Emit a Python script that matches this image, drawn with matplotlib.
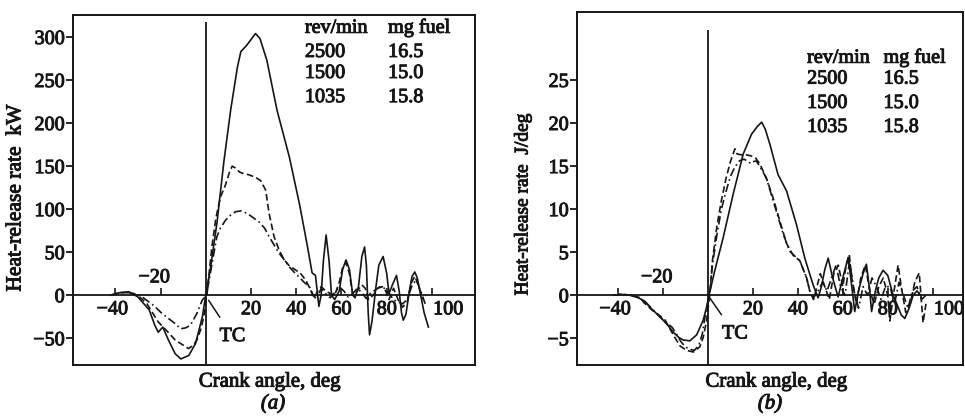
import matplotlib
matplotlib.use("Agg")
import matplotlib.pyplot as plt
import matplotlib.patheffects as pe

plt.rcParams['font.family'] = ['Liberation Serif', 'DejaVu Serif']

# (a) heat-release rate, kW
a_x_2500 = [-42, -38, -34, -30, -25, -22.5, -21, -19, -16.5, -13.5, -11, -7.5, -4.5, -1.5, 0,
            2, 5, 8, 11, 14, 15.5, 18, 20, 22, 24, 27, 31.5, 37, 41.5, 45, 47, 48.5, 50, 51,
            52, 53.2, 54.5, 55.6, 57, 59, 60.5, 62, 63.5, 65, 66, 67.5, 69, 70.2, 71, 71.8,
            72.4, 73.5, 75, 76.5, 78.4, 80, 81, 82.5, 84.3, 85.5, 86.5, 87.3, 88.5, 90, 91.2,
            92.4, 93.5, 95, 96.5, 98.4]
a_y_2500 = [0, 3, 4, -2, -17, -35, -43, -37, -52, -68, -74, -70, -56, -25, 0,
            30, 85, 155, 215, 265, 283, 290, 297, 304, 298, 273, 215, 160, 105, 56, 26, 23, -13, 0,
            40, 70, 40, 0, -5, 5, 30, 41, 30, 0, -3, 10, 45, 56, 35, -20,
            -46, -30, 5, 35, 45, 25, 2, 12, 23, 5, -20, -29, -22, 5, 22,
            27, 20, 0, -20, -37]

a_x_1500 = [-42, -38, -34, -30, -26, -21, -17, -13.5, -10, -7.6, -5.5, -3.9, -2, -0.9, 0.5,
            2.7, 4.5, 6.5, 8.7, 10.5, 11.7, 13, 15, 17, 19, 22, 24.3, 26.5, 28, 30.2, 32.5,
            34.7, 37, 39.9, 42, 44.3, 46, 47, 48, 49.5, 51, 53, 55, 57, 59, 60.5, 62, 63.5,
            65, 67, 69, 70.5, 72, 74, 76, 78, 79.5, 81, 83, 85, 87, 89, 91, 92.4, 94, 96]
a_y_1500 = [0, 3, 3, 0, -10, -31, -42, -52, -58, -62, -58, -52, -38, -25, 0,
            56, 90, 114, 128, 143, 150, 148, 143, 141, 140, 137, 133, 122, 95, 68, 52,
            41, 34, 29, 25, 17, 8, 2, -3, 5, 10, 5, 2, 0, 15, 32, 38, 25,
            0, 5, 12, 8, -5, 0, 8, 10, 5, -5, 8, -5, -14, -8, 15, 22, 12, -5]

a_x_1035 = [-42, -38, -34, -30, -27.6, -23, -19.4, -16, -13.5, -11.2, -9, -6.8, -3.9, -1.6, 0.3,
            2.8, 4.9, 6.5, 8.7, 11, 13.2, 15.5, 18.4, 21, 23.6, 26, 28, 30.3, 32.4, 35, 36.9,
            39, 41.3, 43.5, 45.8, 47.5, 49, 51, 53, 55, 57, 59, 61, 63, 65, 67, 69, 71, 73,
            75, 77, 79, 81, 83, 85, 87, 89, 91, 93, 95, 97]
a_y_1035 = [0, 3, 3, 1, -3, -12, -21, -28, -33, -39, -38, -35, -21, -6, 0,
            37, 68, 78, 87, 93, 97, 98, 95, 90, 85, 78, 68, 58, 49, 40, 33,
            27, 21, 15, 10, 0, -5, 8, 2, -3, 3, 10, 5, -2, 2, 8, 3, -4, 3,
            6, 10, 8, 2, -5, -8, -10, -5, 10, 18, 5, -10]

# (b) heat-release rate, J/deg
b_x_2500 = [-42, -39, -35, -31.7, -28, -25.8, -23, -19.9, -17.5, -15.4, -13, -11, -8, -5, -2.1,
            -0.6, 0.5, 3, 6.8, 11.2, 15.7, 19.4, 22, 23.9, 25.5, 27.6, 31.2, 35, 39.4, 43.1,
            46.8, 49, 50.5, 52, 53.5, 55.5, 57.9, 60, 62.4, 64, 65.3, 67, 69, 70.5, 72, 72.8,
            74.5, 76, 77.9, 80, 82.4, 84, 86, 87.6, 89.5, 91.3, 93, 94.5]
b_y_2500 = [0, 0.1, 0, -0.2, -0.7, -1.4, -2.1, -2.9, -3.6, -4.3, -4.9, -5.2, -5.3, -4.6, -2.9,
            -1.4, 0, 2.8, 6.7, 11.7, 16.4, 18.7, 19.6, 20.1, 19.3, 17.5, 14, 12.1, 8.2, 4.3,
            1.2, -0.3, 1, 3, 4.3, 2, -0.2, 2, 4.4, 1, -1.9, 0.5, 2.5, 3.6, 0.5, -1.9,
            0.5, 2, 2.9, 2.3, 0, -1, -2.3, -2.7, -1.5, 0, 0.5, 0]

b_x_1500 = [-42, -38, -34, -30, -28.7, -25, -21.3, -19, -16.9, -14.5, -12.4, -9.5, -6.5, -3.6,
            -2.1, -0.6, 0.8, 2, 4, 6, 8, 10, 12, 13, 15, 17, 19, 21, 23, 26, 29, 32, 35, 38,
            40.9, 43.9, 45.4, 47, 48.5, 50, 52, 54, 56, 58, 60, 61.5, 62.9, 64, 66, 68, 70,
            72, 74, 76, 78, 80, 80.9, 82.5, 84.6, 86, 88, 90, 92, 94, 95.7, 97]
b_y_1500 = [0, 0.1, 0, -0.3, -0.8, -1.7, -2.4, -2.9, -3.9, -5.0, -5.9, -6.4, -6.6, -6.0,
            -4.9, -3.0, 0, 4, 8, 11, 13.5, 15.5, 17, 16.4, 16.3, 16.3, 16.2, 16.0, 15.3, 13.6,
            11.3, 8.6, 6.0, 4.6, 4.0, 2.0, 0.4, -0.5, 1, 2.5, 1, -0.5, 2.5, 3.5, 1, 3.5, 4.7,
            2, -1, 2, 3.5, 0.5, -1, 1, 2, 0, -3, 0, 3.5, 1, -2, -1, 1.5, 2.6, -3.2, -1]

b_x_1035 = [-42, -38, -34, -30, -27, -24, -21, -18, -16, -14, -12, -10, -8, -6, -4, -2.5, -1,
            0.8, 2, 4, 6, 8, 10, 12, 14, 16, 17.5, 19, 20, 21.5, 23, 26, 29, 33.5, 36.4, 40.9,
            43.9, 45.4, 47, 49, 51, 53, 55, 57, 59, 61, 63, 65, 67, 69, 71, 73, 75, 77, 79, 81,
            83, 85, 87, 89, 91, 93, 95, 97]
b_y_1035 = [0, 0.1, 0, -0.4, -1, -1.8, -2.6, -3.3, -3.7, -4.5, -5.4, -6.0, -6.3, -6.4, -5.8,
            -4.5, -2, 0, 3.5, 7, 10, 12, 13.8, 14.9, 15.6, 15.8, 15.6, 15.3, 15.5, 15.6, 15.0,
            13.6, 11.0, 7.1, 5.1, 4.0, 2.0, 0.4, -0.3, 0.5, 1.5, 0.5, 2, 3.5, 1, 0, 4, 0.5,
            -1.5, 1, 0, 2, 1, -0.5, 1, 1, -1, 1.5, 0, -1.5, 0.5, 1, -0.5, 0]

speeds = ['2500', '1500', '1035']
fuel = ['16.5', '15.0', '15.8']
crank_ticks = [-40, -20, 20, 40, 60, 80, 100]
a_yticks = [-50, 0, 50, 100, 150, 200, 250, 300]
b_yticks = [-5, 0, 5, 10, 15, 20, 25]

ink = '#161616'
# scanned print looks heavy: thicken every glyph a little
heavy = [pe.withStroke(linewidth=0.7, foreground=ink)]
styles = [dict(ls='-'), dict(ls=(0, (4, 2))), dict(ls=(0, (5, 2, 1, 2)))]

fig = plt.figure(figsize=(9.65, 4.19), dpi=100)
ax_a = fig.add_axes([0.0756, 0.129, 0.4166, 0.8353])
ax_b = fig.add_axes([0.598, 0.129, 0.400, 0.8425])


def txt(ax, *args, **kw):
    return ax.text(*args, color=ink, path_effects=heavy, **kw)


def panel(ax, curves, xlim, ylim, yticks, vtop, tc_text, legend_y):
    for (x, y), st in zip(curves, styles):
        ax.plot(x, y, color=ink, lw=1.2, **st)
    ax.set_xlim(*xlim)
    ax.set_ylim(*ylim)
    ax.axhline(0, color=ink, lw=1.3)
    ax.vlines(0, ylim[0], vtop, color=ink, lw=1.3)
    for s in ax.spines.values():
        s.set_linewidth(1.4)
        s.set_color(ink)
    ax.set_xticks([])
    ax.set_yticks(yticks)
    ax.set_yticklabels([str(v).replace('-', '\u2212') for v in yticks])
    ax.tick_params(axis='y', direction='out', length=5, width=1.3, pad=1,
                   labelsize=14.5, colors=ink)
    for t in ax.get_yticklabels():
        t.set_path_effects(heavy)
    # crank-angle ticks on the zero line
    ax.plot(crank_ticks, [0] * len(crank_ticks), ls='none', marker=2,
            ms=5, mew=1.2, color=ink)
    for v in crank_ticks:
        lbl = str(v).replace('-', '\u2212')
        if v == -20:
            pos, off, ha = (v - 2.8, 0), (0, 12.5), 'center'
        elif v == 100:
            pos, off, ha = (v + 0.5, 0), (0, -10.5), 'left'
        else:
            pos, off, ha = (v - 1.3 if v < 0 else v, 0), (0, -10.5), 'center'
        ax.annotate(lbl, pos, xytext=off, textcoords='offset points', ha=ha, va='center',
                    fontsize=14.5, color=ink, path_effects=heavy)
    ax.annotate('TC', xy=tc_text[0], xytext=tc_text[1], ha='center', va='center',
                fontsize=14.5, color=ink, path_effects=heavy,
                arrowprops=dict(arrowstyle='-', color=ink, lw=1.1, shrinkA=6, shrinkB=0))
    x0, x1 = legend_y[0]
    ys = legend_y[1]
    txt(ax, x0, ys[0], 'rev/min', transform=ax.transAxes, fontsize=14.5, va='baseline')
    txt(ax, x1, ys[0], 'mg fuel', transform=ax.transAxes, fontsize=14.5, va='baseline')
    for sp, fu, yy in zip(speeds, fuel, ys[1:]):
        txt(ax, x0, yy, sp, transform=ax.transAxes, fontsize=14.5, va='baseline')
        txt(ax, x1, yy, fu, transform=ax.transAxes, fontsize=14.5, va='baseline')


panel(ax_a, [(a_x_2500, a_y_2500), (a_x_1500, a_y_1500), (a_x_1035, a_y_1035)],
      (-58.7, 119), (-81, 325.6), a_yticks, 317,
      ((1.3, -6), (11.8, -48)), ((0.577, 0.784), [0.949, 0.88, 0.82, 0.751]))
panel(ax_b, [(b_x_2500, b_y_2500), (b_x_1500, b_y_1500), (b_x_1035, b_y_1035)],
      (-58.2, 113.5), (-8.1, 32.9), b_yticks, 30.8,
      ((0.9, -0.35), (12, -4.5)), ((0.596, 0.794), [0.856, 0.797, 0.728, 0.66]))

txt(fig, 0.0165, 0.527, 'Heat-release rate  kW', rotation=90, ha='center', va='center',
    fontsize=15.5)
txt(fig, 0.542, 0.513, 'Heat-release rate  J/deg', rotation=90, ha='center', va='center',
    fontsize=14)
txt(fig, 0.28, 0.088, 'Crank angle, deg', ha='center', va='center', fontsize=15)
txt(fig, 0.805, 0.088, 'Crank angle, deg', ha='center', va='center', fontsize=15)
txt(fig, 0.283, 0.036, '(a)', ha='center', va='center', fontsize=15, style='italic')
txt(fig, 0.798, 0.036, '(b)', ha='center', va='center', fontsize=15, style='italic')

fig.savefig('out.png', dpi=100, facecolor='white')
